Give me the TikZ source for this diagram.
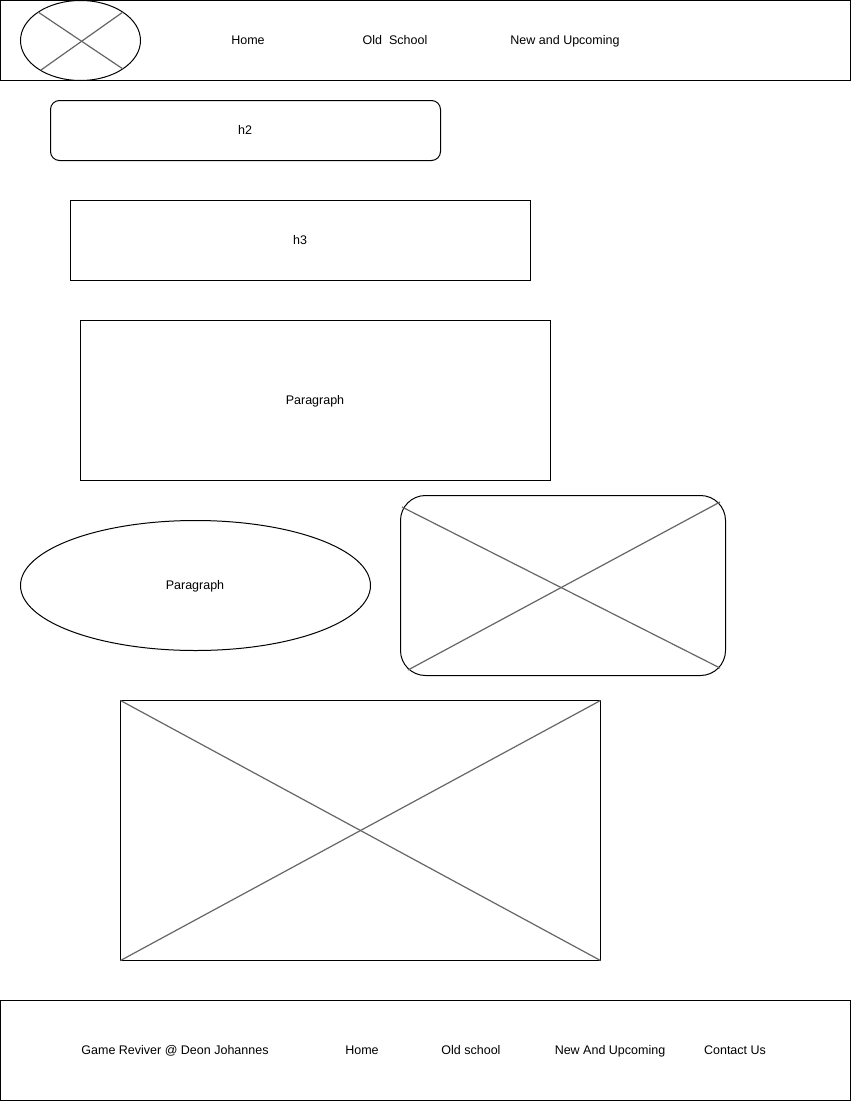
\documentclass[tikz,border=0pt]{standalone}
\usepackage{fontspec}
\setmainfont{Liberation Sans}
\usetikzlibrary{shapes.geometric}
\definecolor{crossgray}{HTML}{666666}
\begin{document}
\begin{tikzpicture}[x=1pt,y=-1pt,
  box/.style={draw=black,line width=1pt},
  cross/.style={draw=crossgray,line width=1.2pt},
  lbl/.style={font=\fontsize{12.5}{14}\selectfont,inner sep=0pt,anchor=base,yshift=-4.5pt}]
\useasboundingbox[fill=white] (0,0) rectangle (851,1101);
% header
\draw[box] (0.5,0.5) rectangle (850.5,80.5);
\draw[box] (80.5,40.5) ellipse [x radius=60, y radius=40];
\coordinate (l1a) at (38,12); \coordinate (l1b) at (123,69);
\coordinate (l2a) at (41,70); \coordinate (l2b) at (123,12);
\draw[cross] (l1a) -- (l1b);
\draw[cross] (l2a) -- (l2b);
\node[lbl] (nhome) at (248,40) {Home};
\node[lbl] (nold) at (395,40) {Old\ \ School};
\node[lbl] (nnew) at (565,40) {New and Upcoming};
% h2
\draw[box,rounded corners=9pt] (50.5,100.5) rectangle (440.5,160.5);
\node[lbl] (h2) at (245,130) {h2};
% h3
\draw[box] (70.5,200.5) rectangle (530.5,280.5);
\node[lbl] (h3) at (300,240) {h3};
% paragraph
\draw[box] (80.5,320.5) rectangle (550.5,480.5);
\node[lbl] (p1) at (315,400) {Paragraph};
% ellipse paragraph
\draw[box] (195.5,585.5) ellipse [x radius=175, y radius=65];
\node[lbl] (p2) at (195,585) {Paragraph};
% rounded image
\draw[box,rounded corners=25pt] (400.5,495.5) rectangle (725.5,675.5);
\coordinate (r1a) at (402,507); \coordinate (r1b) at (720,668);
\coordinate (r2a) at (408,670); \coordinate (r2b) at (720,502);
\draw[cross] (r1a) -- (r1b);
\draw[cross] (r2a) -- (r2b);
% big image
\draw[box] (120.5,700.5) rectangle (600.5,960.5);
\coordinate (b1a) at (120.5,700.5); \coordinate (b1b) at (600.5,960.5);
\coordinate (b2a) at (120.5,960.5); \coordinate (b2b) at (600.5,700.5);
\draw[cross] (b1a) -- (b1b);
\draw[cross] (b2a) -- (b2b);
% footer
\draw[box] (0.5,1000.5) rectangle (850.5,1100.5);
\node[lbl] (f1) at (175,1050) {Game Reviver @ Deon Johannes};
\node[lbl] (f2) at (362,1050) {Home};
\node[lbl] (f3) at (471,1050) {Old school};
\node[lbl] (f4) at (610,1050) {New And Upcoming};
\node[lbl] (f5) at (735,1050) {Contact Us};
\end{tikzpicture}
\end{document}
